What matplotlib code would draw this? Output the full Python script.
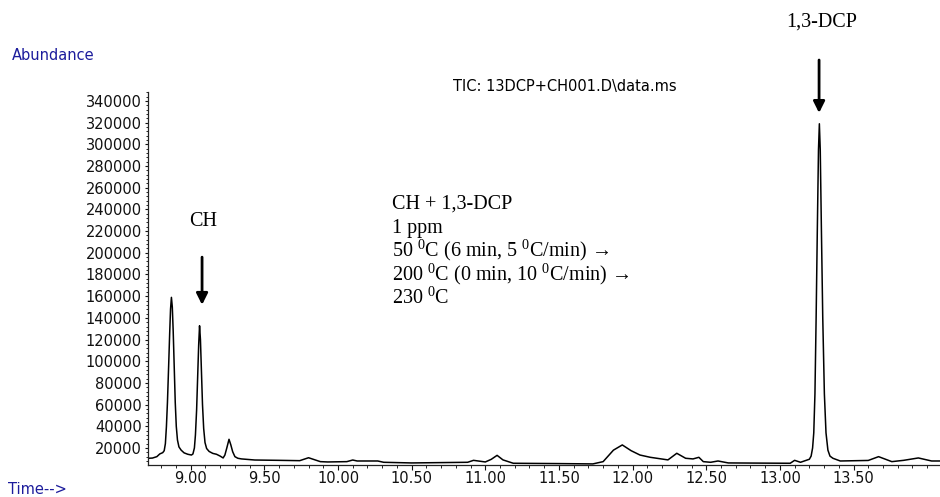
import matplotlib
matplotlib.use("Agg")
import matplotlib.pyplot as plt
from matplotlib.ticker import MultipleLocator

plt.rcParams["mathtext.fontset"] = "custom"
plt.rcParams["mathtext.rm"] = "Liberation Serif"
plt.rcParams["mathtext.default"] = "regular"

# ---- data ----
time_min = [8.710, 8.740, 8.770, 8.790, 8.810, 8.820, 8.828, 8.835, 8.842, 8.850,
            8.857, 8.863, 8.869, 8.875, 8.881, 8.888, 8.895, 8.902, 8.910, 8.920,
            8.935, 8.955, 8.980, 9.005, 9.015, 9.025, 9.032, 9.040, 9.047, 9.054,
            9.060, 9.066, 9.073, 9.080, 9.088, 9.097, 9.108, 9.125, 9.150, 9.175,
            9.200, 9.220, 9.232, 9.245, 9.260, 9.272, 9.285, 9.300, 9.320, 9.345,
            9.435, 9.600, 9.740, 9.800, 9.880, 9.930, 10.060, 10.100, 10.130, 10.270,
            10.310, 10.500, 10.880, 10.920, 11.000, 11.040, 11.080, 11.120, 11.190, 11.500,
            11.730, 11.800, 11.870, 11.930, 11.990, 12.050, 12.120, 12.210, 12.240, 12.300,
            12.360, 12.410, 12.450, 12.480, 12.530, 12.580, 12.650, 13.070, 13.100, 13.140,
            13.200, 13.212, 13.222, 13.230, 13.238, 13.246, 13.254, 13.262, 13.268, 13.274,
            13.282, 13.291, 13.302, 13.313, 13.326, 13.340, 13.360, 13.410, 13.600, 13.670,
            13.760, 13.840, 13.940, 14.030, 14.087]
abundance = [10500, 10700, 12000, 14500, 15700, 17500, 24000, 39600, 62000, 95000,
             125000, 148000, 158900, 150000, 128000, 95000, 62000, 40000, 27400, 21000,
             18000, 15500, 14200, 13500, 14500, 20000, 32000, 55000, 85000, 115000,
             132700, 120000, 90000, 60000, 38000, 25000, 19500, 16800, 15000, 14200,
             12500, 10800, 13500, 20000, 28000, 23000, 16500, 12000, 10500, 9900,
             8900, 8600, 8300, 11000, 7400, 7100, 7400, 8900, 8000, 8000,
             6800, 6200, 6800, 8600, 7100, 9500, 13200, 9000, 5900, 5600,
             5300, 7400, 18000, 22800, 17500, 13500, 11400, 9600, 9000, 15100,
             10500, 9900, 11400, 7400, 6800, 8000, 6200, 5900, 8600, 6800,
             9600, 12500, 20000, 34000, 70000, 140000, 220000, 295000, 319000, 295000,
             220000, 140000, 70000, 34000, 18000, 12500, 10500, 8000, 8500, 12000,
             7400, 8600, 10800, 8000, 8000]

y_ticks = list(range(20000, 340001, 20000))
x_ticks = [9.00, 9.50, 10.00, 10.50, 11.00, 11.50, 12.00, 12.50, 13.00, 13.50]
x_tick_labels = ["9.00", "9.50", "10.00", "10.50", "11.00", "11.50", "12.00",
                 "12.50", "13.00", "13.50"]

ch_arrow = (9.077, 196000, 152000)      # x, arrow start, arrow tip
dcp_arrow = (13.266, 377800, 329000)

W, H = 940, 497
fig = plt.figure(figsize=(W / 100, H / 100), dpi=100)
ax = fig.add_axes([148 / W, 1 - 465 / H, (W - 148) / W, (465 - 92) / H])

ax.plot(time_min, abundance, color="black", lw=1.1)
ax.set_xlim(8.71, 14.087)
ax.set_ylim(4300, 348300)

for s in ("top", "right"):
    ax.spines[s].set_visible(False)
for s in ("left", "bottom"):
    ax.spines[s].set_linewidth(0.9)
    ax.spines[s].set_color("#222222")

ax.set_yticks(y_ticks)
ax.set_yticklabels([str(v) for v in y_ticks])
ax.yaxis.set_minor_locator(MultipleLocator(4000))
ax.set_xticks(x_ticks)
ax.set_xticklabels(x_tick_labels)
ax.xaxis.set_minor_locator(MultipleLocator(0.1))

ax.tick_params(axis="y", which="major", direction="out", length=2.5, width=0.8,
               pad=2, labelsize=10.5, colors="#111111")
ax.tick_params(axis="y", which="minor", direction="out", length=1.2, width=0.6)
ax.tick_params(axis="x", which="major", direction="out", length=3.5, width=0.8,
               pad=0.5, labelsize=10.5, colors="#111111")
ax.tick_params(axis="x", which="minor", direction="out", length=2.2, width=0.6)
for lab in ax.get_xticklabels() + ax.get_yticklabels():
    lab.set_family("DejaVu Sans")

# arrows
for (x, y0, y1) in (ch_arrow, dcp_arrow):
    ann = ax.annotate("", xy=(x, y1), xytext=(x, y0), xycoords="data", textcoords="data",
                      annotation_clip=False,
                      arrowprops=dict(arrowstyle="-|>", lw=2.0, color="black",
                                      mutation_scale=17, shrinkA=0, shrinkB=0))
    ann.arrow_patch.set_clip_on(False)

def fx(px):
    return px / W

def fy(py):
    return 1 - py / H

serif = ["Liberation Serif", "DejaVu Serif"]
blue = "#1c1c9c"

fig.text(fx(12), fy(56), "Abundance", color=blue, fontsize=10.5, family="DejaVu Sans",
         ha="left", va="center")
fig.text(fx(8), fy(490), "Time-->", color=blue, fontsize=10.5, family="DejaVu Sans",
         ha="left", va="center")
fig.text(fx(565), fy(87), "TIC: 13DCP+CH001.D\\data.ms", color="black", fontsize=10.5,
         family="DejaVu Sans", ha="center", va="center")

fig.text(fx(822), fy(22), "1,3-DCP", fontsize=14.5, family=serif, ha="center", va="center")
fig.text(fx(203), fy(222), "CH", fontsize=14.5, family=serif, ha="center", va="center")

lines = ["CH + 1,3-DCP",
         "1 ppm",
         "50 $^{0}$C (6 min, 5 $^{0}$C/min) \u2192",
         "200 $^{0}$C (0 min, 10 $^{0}$C/min) \u2192",
         "230 $^{0}$C"]
baselines = [209, 233, 256.5, 280, 303.5]
for txt, b in zip(lines, baselines):
    fig.text(fx(392), fy(b), txt, fontsize=14.5, family=serif, ha="left", va="baseline")

fig.savefig("out.png", dpi=100)
